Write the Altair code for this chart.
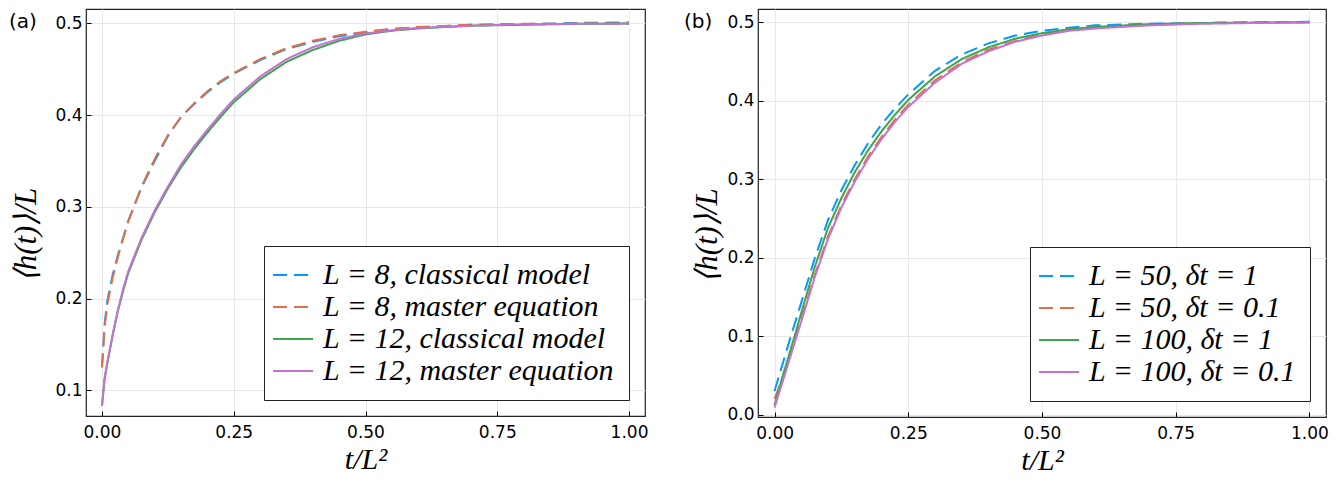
import altair as alt
import pandas as pd

# ---------------- data ----------------
t_grid = [0, 0.005, 0.01, 0.02, 0.03, 0.04, 0.05, 0.075, 0.1, 0.125, 0.15, 0.175,
          0.2, 0.225, 0.25, 0.3, 0.35, 0.4, 0.45, 0.5, 0.55, 0.6, 0.7, 0.8, 0.9, 1.0]

# panel (a)
a_labels = ["L = 8, classical model", "L = 8, master equation",
            "L = 12, classical model", "L = 12, master equation"]
a_L8_classical = [0.125, 0.172, 0.197, 0.225, 0.247, 0.266, 0.285, 0.321, 0.350, 0.377,
                  0.398, 0.412, 0.425, 0.436, 0.445, 0.460, 0.472, 0.480, 0.486, 0.490,
                  0.494, 0.4955, 0.4985, 0.4992, 0.5005, 0.501]
a_L8_master = [0.125, 0.168, 0.193, 0.222, 0.245, 0.265, 0.284, 0.322, 0.352, 0.378,
               0.398, 0.413, 0.426, 0.437, 0.446, 0.461, 0.473, 0.481, 0.487, 0.491,
               0.494, 0.496, 0.4985, 0.4995, 0.4998, 0.500]
a_L12_classical = [0.083, 0.112, 0.129, 0.159, 0.186, 0.208, 0.228, 0.264, 0.294, 0.320,
                   0.343, 0.363, 0.381, 0.398, 0.414, 0.439, 0.458, 0.471, 0.481, 0.488,
                   0.492, 0.4945, 0.4975, 0.4985, 0.4995, 0.500]
a_L12_master = [0.083, 0.113, 0.130, 0.160, 0.187, 0.210, 0.230, 0.266, 0.296, 0.322,
                0.346, 0.366, 0.384, 0.401, 0.417, 0.442, 0.461, 0.474, 0.483, 0.489,
                0.4925, 0.495, 0.4975, 0.499, 0.4995, 0.4998]

# panel (b)
b_labels = ["L = 50, δt = 1", "L = 50, δt = 0.1",
            "L = 100, δt = 1", "L = 100, δt = 0.1"]
b_L50_dt1 = [0.030, 0.042, 0.053, 0.076, 0.099, 0.121, 0.143, 0.199, 0.248, 0.286,
             0.318, 0.346, 0.370, 0.390, 0.408, 0.438, 0.459, 0.473, 0.483, 0.489,
             0.493, 0.496, 0.498, 0.499, 0.500, 0.5005]
b_L50_dt01 = [0.020, 0.029, 0.038, 0.058, 0.079, 0.100, 0.122, 0.178, 0.227, 0.267,
              0.300, 0.329, 0.354, 0.376, 0.395, 0.426, 0.449, 0.465, 0.476, 0.484,
              0.490, 0.493, 0.497, 0.499, 0.4995, 0.500]
b_L100_dt1 = [0.012, 0.025, 0.037, 0.060, 0.083, 0.106, 0.130, 0.188, 0.238, 0.276,
              0.309, 0.337, 0.361, 0.382, 0.401, 0.431, 0.453, 0.468, 0.479, 0.486,
              0.491, 0.494, 0.4975, 0.499, 0.4995, 0.500]
b_L100_dt01 = [0.009, 0.020, 0.031, 0.053, 0.075, 0.097, 0.119, 0.175, 0.224, 0.264,
               0.297, 0.326, 0.351, 0.373, 0.392, 0.423, 0.447, 0.463, 0.475, 0.483,
               0.489, 0.492, 0.496, 0.498, 0.499, 0.4995]

x_ticks = [0, 0.25, 0.5, 0.75, 1.0]
a_y_ticks = [0.1, 0.2, 0.3, 0.4, 0.5]
b_y_ticks = [0.0, 0.1, 0.2, 0.3, 0.4, 0.5]

COLORS = ["#009AFA", "#E36F47", "#3EA44E", "#C371D2"]
DASHES = [[14, 7], [14, 7], [1, 0], [1, 0]]


def long_df(labels, series):
    rows = []
    for lab, vals in zip(labels, series):
        for t, v in zip(t_grid, vals):
            rows.append({"t": t, "v": v, "series": lab})
    return pd.DataFrame(rows)


def make_panel(df, labels, xdom, ydom, yticks, yfmt, w, h, tag, tagx, ytitlex):
    legend = dict(
        orient="bottom-right", offset=16, title=None,
        labelFont="Liberation Serif", labelFontStyle="italic", labelFontSize=30,
        labelColor="black", labelOffset=15, labelLimit=0,
        symbolType="M-2,0H2", symbolSize=400,
        symbolStrokeWidth=2.2, fillColor="white", strokeColor="#222",
        padding=14, rowPadding=2,
    )
    color = alt.Color("series:N", sort=labels,
                      scale=alt.Scale(domain=labels, range=COLORS),
                      legend=alt.Legend(**legend))
    dash = alt.StrokeDash("series:N", sort=labels,
                          scale=alt.Scale(domain=labels, range=DASHES),
                          legend=alt.Legend(**legend))
    xaxis = alt.Axis(values=x_ticks, format=".2f", title="t/L²",
                     titleFont="Liberation Serif", titleFontStyle="italic",
                     titleFontSize=30, titleFontWeight="normal", titleColor="black",
                     titlePadding=4,
                     labelFont="DejaVu Sans", labelFontSize=17, labelColor="black",
                     labelPadding=8, domain=False, ticks=True, tickSize=5,
                     tickColor="black", offset=-5, gridColor="#e8e8e8", gridWidth=1)
    yaxis = alt.Axis(values=yticks, format=yfmt, title="⟨h(t)⟩/L",
                     titleFont="Liberation Serif", titleFontStyle="italic",
                     titleFontSize=31, titleFontWeight="normal", titleColor="black",
                     titleAngle=270, titleBaseline="middle", titleAlign="center",
                     titleX=ytitlex, titleY=h / 2 + 22,
                     labelFont="DejaVu Sans", labelFontSize=17, labelColor="black",
                     labelPadding=4, domain=False, ticks=True, tickSize=5,
                     tickColor="black", offset=-5, gridColor="#e8e8e8", gridWidth=1)
    x = alt.X("t:Q", scale=alt.Scale(domain=xdom, nice=False, zero=False), axis=xaxis)
    y = alt.Y("v:Q", scale=alt.Scale(domain=ydom, nice=False, zero=False), axis=yaxis)

    layers = []
    for lab in labels:
        layers.append(
            alt.Chart(df).transform_filter(alt.datum.series == lab)
            .mark_line(strokeWidth=2, clip=True)
            .encode(x=x, y=y, color=color, strokeDash=dash)
        )
    tag_text = alt.Chart(pd.DataFrame({"tag": [tag]})).mark_text(
        align="left", baseline="middle", fontSize=20, font="DejaVu Sans", color="black"
    ).encode(x=alt.value(tagx), y=alt.value(13), text="tag:N")
    layers.append(tag_text)
    return alt.layer(*layers).properties(width=w, height=h)


df_a = long_df(a_labels, [a_L8_classical, a_L8_master, a_L12_classical, a_L12_master])
df_b = long_df(b_labels, [b_L50_dt1, b_L50_dt01, b_L100_dt1, b_L100_dt01])

pa = make_panel(df_a, a_labels, [-0.0303, 1.0303], [0.0719, 0.5157], a_y_ticks, ".1f",
                559, 407, "(a)", -77, -65)
pb = make_panel(df_b, b_labels, [-0.031, 1.031], [-0.003, 0.5168], b_y_ticks, ".1f",
                568, 408, "(b)", -74, -56)

chart = alt.hconcat(pa, pb, spacing=34).resolve_scale(
    color="independent", strokeDash="independent", x="independent", y="independent"
).properties(
    padding={"left": 0, "top": 0, "right": 5, "bottom": 0},
    background="white",
).configure_view(stroke="#222", strokeWidth=1.2)

chart.save("out.html", embed_options={"renderer": "svg", "actions": False})
